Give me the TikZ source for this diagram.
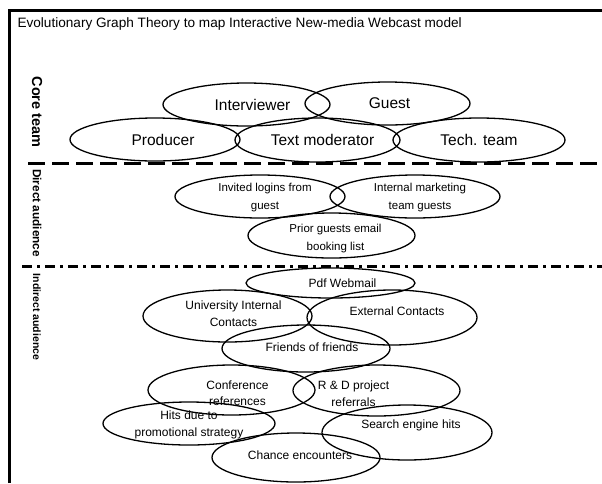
\documentclass[tikz,border=0pt]{standalone}
\usepackage{fontspec}
\setmainfont{Liberation Sans}
\usetikzlibrary{shapes.geometric}
\begin{document}
\begin{tikzpicture}[x=1pt,y=-1pt,
  oval/.style 2 args={draw, ellipse, line width=1.3pt, inner sep=0pt,
    minimum width=#1pt, minimum height=#2pt},
  coretxt/.style={font=\fontsize{15.5}{17}\selectfont},
  dirtxt/.style={font=\fontsize{11.5}{17.5}\selectfont, align=center},
  indtxt/.style={font=\fontsize{12}{16.5}\selectfont, align=center},
  zone/.style={rotate=-90, font=\bfseries\fontsize{#1}{#1}\selectfont},
  border/.style={line width=3pt},
  tierA/.style={line width=3pt, dash pattern=on 17pt off 7pt},
  tierB/.style={line width=3pt, dash pattern=on 10pt off 5pt on 3pt off 5pt}]
\useasboundingbox (0,0) rectangle (602,483);

% frame and heading
\draw[border] (9,483) -- (9,10) -- (602,10);
\node[anchor=west, font=\fontsize{13.6}{16}\selectfont] (title) at (14,24)
  {Evolutionary Graph Theory to map Interactive New-media Webcast model};

% tier separators
\coordinate (sepAl) at (28,163);
\coordinate (sepAr) at (602,163);
\coordinate (sepBl) at (22,266);
\coordinate (sepBr) at (602,266);
\draw[tierA] (sepAl) -- (sepAr);
\draw[tierB] (sepBl) -- (sepBr);

% tier names
\node[zone=14.5] (zcore) at (37,112) {Core team};
\node[zone=11.8] (zdirect) at (37,213) {Direct audience};
\node[zone=10.5] (zindirect) at (37,317) {Indirect audience};

% core team
\node[oval={167}{43}] (interviewer) at (246.5,104.5) {};
\node[oval={165}{43}] (guest) at (387.5,103.5) {};
\node[oval={170}{43}] (producer) at (155,139.5) {};
\node[oval={165}{44}] (textmod) at (317.5,140) {};
\node[oval={172}{44}] (tech) at (479,140) {};
\node[coretxt] at ([xshift=6pt]interviewer.center) {Interviewer};
\node[coretxt] at ([xshift=2pt]guest.center) {Guest};
\node[coretxt] at ([xshift=8pt]producer.center) {Producer};
\node[coretxt] at ([xshift=5pt]textmod.center) {Text moderator};
\node[coretxt] at (tech.center) {Tech. team};

% direct audience
\node[oval={170}{43}] (invited) at (260,196.5) {};
\node[oval={170}{43}] (internal) at (415,196.5) {};
\node[oval={167}{45}] (prior) at (331.5,235.5) {};
\node[dirtxt] at ([xshift=5pt,yshift=-1pt]invited.center) {Invited logins from\\guest};
\node[dirtxt] at ([xshift=5pt,yshift=-1pt]internal.center) {Internal marketing\\team guests};
\node[dirtxt] at ([xshift=4pt,yshift=-3pt]prior.center) {Prior guests email\\booking list};

% indirect audience
\node[oval={169}{30}] (pdf) at (330.5,283) {};
\node[oval={169}{52}] (univ) at (227.5,316) {};
\node[oval={170}{55}] (external) at (392,317.5) {};
\node[oval={168}{47}] (friends) at (306,348.5) {};
\node[oval={167}{50}] (conf) at (231.5,390) {};
\node[oval={167}{51}] (rnd) at (376.5,390.5) {};
\node[oval={172}{43}] (hits) at (189,423.5) {};
\node[oval={170}{55}] (search) at (407,432.5) {};
\node[oval={168}{49}] (chance) at (296,457.5) {};
\node[indtxt] at ([xshift=12pt]pdf.center) {Pdf Webmail};
\node[indtxt] at ([xshift=6pt,yshift=2.5pt]univ.center) {University Internal\\Contacts};
\node[indtxt] at ([xshift=5pt,yshift=6.5pt]external.center) {External Contacts};
\node[indtxt] at ([xshift=6pt,yshift=1.5pt]friends.center) {Friends of friends};
\node[indtxt] at ([xshift=6pt,yshift=-3pt]conf.center) {Conference\\references};
\node[indtxt] at ([xshift=-23pt,yshift=-3pt]rnd.center) {R \& D project\\referrals};
\node[indtxt] at ([yshift=-1.5pt]hits.center) {Hits due to\\promotional strategy};
\node[indtxt] at ([xshift=4pt,yshift=7.5pt]search.center) {Search engine hits};
\node[indtxt] at ([xshift=4pt,yshift=2.5pt]chance.center) {Chance encounters};
\end{tikzpicture}
\end{document}
